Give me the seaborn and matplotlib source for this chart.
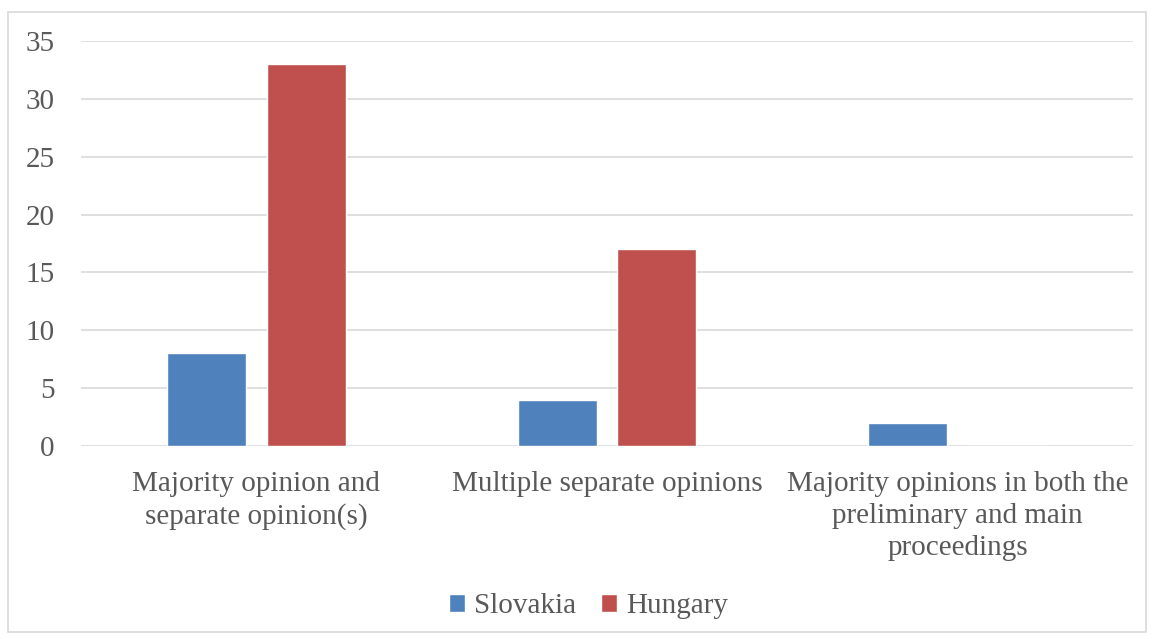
import matplotlib
matplotlib.use("Agg")
import matplotlib.pyplot as plt
import seaborn as sns
import pandas as pd
from matplotlib.patches import Rectangle

categories = [
    "Majority opinion and\nseparate opinion(s)",
    "Multiple separate opinions",
    "Majority opinions in both the\npreliminary and main\nproceedings",
]
series = ["Slovakia", "Hungary"]
slovakia = [8, 4, 2]
hungary = [33, 17, 0]
colors = ["#4F81BD", "#C0504D"]
y_ticks = [0, 5, 10, 15, 20, 25, 30, 35]

df = pd.DataFrame({
    "category": categories * 2,
    "country": ["Slovakia"] * 3 + ["Hungary"] * 3,
    "value": slovakia + hungary,
})

sns.set_style("white")
plt.rcParams["font.family"] = ["Liberation Serif", "DejaVu Serif"]

fig = plt.figure(figsize=(11.54, 6.39), dpi=100)
ax = fig.add_axes([0.0702, 0.302, 0.9116, 0.6338])

sns.barplot(data=df, x="category", y="value", hue="country", hue_order=series,
            palette=colors, width=0.57, gap=0.21, ax=ax, legend=True,
            saturation=1)

ax.set_xlim(-0.5, 2.5)
ax.set_ylim(0, 35)
ax.set_yticks(y_ticks)
ax.yaxis.grid(True, color="#D9D9D9", linewidth=1.2)
ax.set_axisbelow(True)
for s in ax.spines.values():
    s.set_visible(False)
ax.tick_params(axis="both", length=0, labelsize=21, colors="#595959")
ax.tick_params(axis="y", pad=19)
ax.tick_params(axis="x", pad=18)
ax.set_xlabel("")
ax.set_ylabel("")
for lbl in ax.get_xticklabels():
    lbl.set_linespacing(1.3)

handles, labels = ax.get_legend_handles_labels()
ax.legend_.remove()
fig.legend(handles, labels, loc="center", bbox_to_anchor=(0.51, 0.051), ncol=2,
           frameon=False, fontsize=21, labelcolor="#595959", handlelength=0.55,
           handleheight=0.55, handletextpad=0.3, columnspacing=0.85)

fig.patches.append(Rectangle((8 / 1154, 7 / 639), 1138 / 1154, 620 / 639,
                             transform=fig.transFigure, fill=False,
                             edgecolor="#D9D9D9", linewidth=1.2))

fig.savefig("out.png", dpi=100)
